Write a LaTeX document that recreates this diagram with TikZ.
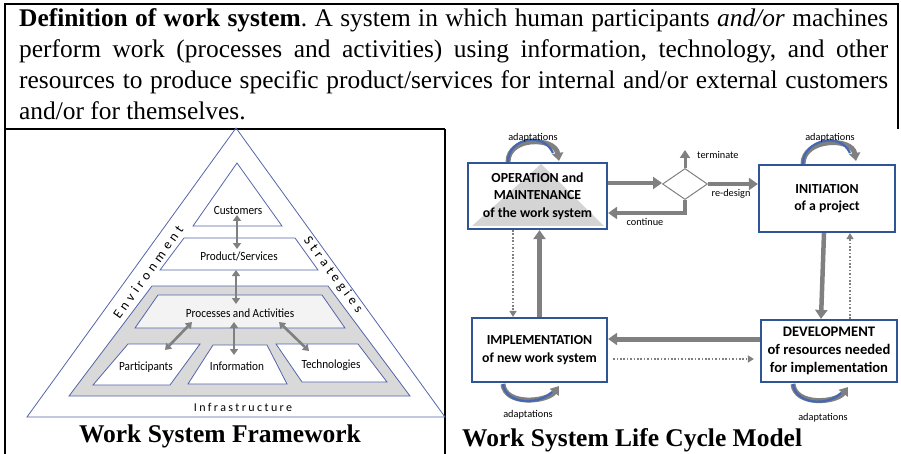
\documentclass[tikz,border=0pt]{standalone}
\usepackage{fontspec}
\setmainfont{Liberation Serif}
\newfontfamily\calib{Carlito}
\newfontfamily\calibn[FakeStretch=0.9]{Carlito}
\newfontfamily\calibsp[LetterSpace=20]{Carlito}
\newfontfamily\calibwide[LetterSpace=30]{Carlito}
\usetikzlibrary{arrows.meta,shapes.geometric,calc}

\definecolor{pyrline}{RGB}{84,100,170}
\definecolor{bandgray}{RGB}{217,217,217}
\definecolor{pafill}{RGB}{243,243,243}
\definecolor{arrgray}{RGB}{128,128,128}
\definecolor{boxblue}{RGB}{47,85,151}
\definecolor{loopblue}{RGB}{68,104,180}
\definecolor{opshade}{RGB}{212,212,212}

\tikzset{
  frame/.style={black, line width=2pt},
  pyr/.style={draw=pyrline, line width=0.8pt},
  lbl/.style={inner sep=0, font=\calibn\fontsize{12.5}{14}\selectfont},
  edgetxt/.style={inner sep=0, font=\calibwide\fontsize{13.5}{15}\selectfont},
  dbl/.style={arrgray, line width=2.6pt,
    {Triangle[length=6pt,width=8pt]}-{Triangle[length=6pt,width=8pt]}},
  stage/.style={draw=boxblue, line width=2.2pt, align=center, inner sep=0,
    font=\calib\bfseries\fontsize{13.8}{17.5}\selectfont},
  flow/.style={arrgray, line width=4pt, -{Triangle[length=9pt,width=12pt]}},
  thinflow/.style={arrgray, line width=3pt, -{Triangle[length=8pt,width=10pt]}},
  dots/.style={arrgray, line width=1.6pt, dash pattern=on 1.6pt off 1.8pt,
    -{Triangle[length=6pt,width=7pt]}},
  small/.style={inner sep=0, font=\calib\fontsize{10.3}{12}\selectfont},
  loopgray/.style={arrgray, line width=5pt, -{Triangle[length=8pt,width=11pt]}},
  loopcore/.style={loopblue, line width=2.2pt},
  title/.style={inner sep=0, font=\bfseries\fontsize{25.5}{28}\selectfont}
}

\begin{document}
\begin{tikzpicture}[x=1pt, y=-1pt]
\useasboundingbox (0,0) rectangle (901,454);

% ---------- frames ----------
\draw[frame] (5,454) -- (5,4) -- (898,4) -- (898,129);
\draw[frame] (5,129) -- (445,129);
\draw[frame] (445,129) -- (445,454);

% ---------- definition ----------
\node[anchor=north west, inner sep=0] (def) at (19,8) {\parbox{869pt}{\frenchspacing\fontsize{25.4}{31}\selectfont
\textbf{Definition of work system}. A system in which human participants \textit{and/or} machines\linebreak
perform work (processes and activities) using information, technology, and other\linebreak
resources to produce specific product/services for internal and/or external customers\linebreak
and/or for themselves.}};

% ---------- work system framework ----------
\draw[pyr] (236,128) -- (445,417) -- (27,417) -- cycle;
\draw[pyr] (237,163) -- (282,226) -- (193,226) -- cycle;
\draw[pyr] (184,238) -- (295,238) -- (318,270) -- (160,270) -- cycle;
\draw[pyr, fill=bandgray] (152,286) -- (328,286) -- (410,396) -- (69,396) -- cycle;
\draw[pyr, fill=pafill] (158,295) -- (322,295) -- (345,328) -- (135,328) -- cycle;
\draw[pyr, fill=white] (128,344) -- (200,344) -- (170,385) -- (93,385) -- cycle;
\draw[pyr, fill=white] (213,345) -- (267,345) -- (287,384) -- (188,384) -- cycle;
\draw[pyr, fill=white] (276,344) -- (358,344) -- (387,382) -- (302,382) -- cycle;

\node[lbl] (cust) at (238,210) {Customers};
\node[lbl] (prod) at (239,256) {Product/Services};
\node[lbl] (proc) at (240,313) {Processes and Activities};
\node[lbl] (part) at (146,367) {Participants};
\node[lbl] (info) at (237,366) {Information};
\node[lbl] (tech) at (331,365) {Technologies};
\node[inner sep=0, font=\calibsp\fontsize{12}{13}\selectfont] (infra) at (243,407) {Infrastructure};
\node[edgetxt, rotate=54.5] (env) at (148,272) {Environment};
\node[edgetxt, rotate=-53.5] (strat) at (333,275) {Strategies};

\coordinate (c1) at (237,215); \coordinate (c2) at (237,249);
\coordinate (p1) at (236,270); \coordinate (p2) at (236,304);
\coordinate (a1) at (192,322); \coordinate (a2) at (165,350);
\coordinate (i1) at (234,322); \coordinate (i2) at (234,355);
\coordinate (t1) at (279,322); \coordinate (t2) at (309,351);
\draw[dbl] (c1) -- (c2);
\draw[dbl] (p1) -- (p2);
\draw[dbl] (a1) -- (a2);
\draw[dbl] (i1) -- (i2);
\draw[dbl] (t1) -- (t2);

\node[title, anchor=base] (wsf) at (220,442) {Work System Framework};

% ---------- work system life cycle ----------
\fill[opshade] (541,164) -- (604,226) -- (472,226) -- cycle;
\node[stage, minimum width=139pt, minimum height=66pt] (op) at (537.5,196)
  {OPERATION and\\MAINTENANCE\\of the work system};
\node[stage, minimum width=136pt, minimum height=67pt] (init) at (827,198.5)
  {INITIATION\\of a project};
\node[stage, minimum width=135pt, minimum height=64pt] (impl) at (539.5,350)
  {IMPLEMENTATION\\of new work system};
\node[stage, minimum width=136pt, minimum height=62pt, font=\calib\bfseries\fontsize{14.6}{18}\selectfont] (dev) at (829,351)
  {DEVELOPMENT\\of resources needed\\for implementation};

\node[diamond, draw=arrgray, line width=1pt, aspect=1.45, minimum width=45pt,
  minimum height=31pt, inner sep=0] (dm) at (685,184) {};

\coordinate (term) at (685,150);
\draw[thinflow] (dm.north) -- (term);
\draw[flow] ([yshift=13]op.east) -- ([yshift=13]op.east -| dm.west);
\draw[flow] (dm.east) -- (dm.east -| init.west);
\draw[flow] (dm.south) |- ([yshift=-17]op.east);

\node[small, anchor=west] (termlbl) at (697,155) {terminate};
\node[small] (redes) at (731,194) {re-design};
\node[small] (cont) at (645,222) {continue};

\draw[flow, line width=4.5pt] ([xshift=-3]init.south) -- ([xshift=-8]dev.north);
\draw[dots] ([xshift=21]dev.north) -- ([xshift=23]init.south);
\draw[flow, line width=5pt] ([yshift=12]dev.west) -- ([yshift=12]dev.west -| impl.east);
\draw[dots] ([yshift=-9,xshift=5]impl.east) -- ([yshift=-9,xshift=-6]impl.east -| dev.west);
\draw[flow, line width=5pt] (impl.north) -- (impl.north |- op.south);
\draw[dots] ([xshift=-24.5]op.south) -- ([xshift=-24.5]op.south |- impl.north);

% adaptation loops
\coordinate (la1) at (508,162); \coordinate (la2) at (559,161);
\coordinate (lb1) at (803,164); \coordinate (lb2) at (856,161);
\coordinate (lc1) at (503,384); \coordinate (lc2) at (559,386);
\coordinate (ld1) at (793,384); \coordinate (ld2) at (848,387);
\draw[loopgray] (la1) .. controls +(0,-26) and +(-4,-24) .. (la2);
\draw[loopcore] (la1) .. controls +(0,-24) and +(-10,-22) .. ($(la2)+(-6,-8)$);
\draw[loopgray] (lb1) .. controls +(0,-26) and +(-4,-24) .. (lb2);
\draw[loopcore] (lb1) .. controls +(0,-24) and +(-10,-22) .. ($(lb2)+(-6,-8)$);
\draw[loopgray] (lc1) .. controls +(2,22) and +(-12,16) .. (lc2);
\draw[loopcore] (lc1) .. controls +(2,20) and +(-14,14) .. ($(lc2)+(-7,6)$);
\draw[loopgray] (ld1) .. controls +(2,22) and +(-12,16) .. (ld2);
\draw[loopcore] (ld1) .. controls +(2,20) and +(-14,14) .. ($(ld2)+(-7,6)$);

\node[small] (ada) at (533,138) {adaptations};
\node[small] (adb) at (830,138) {adaptations};
\node[small] (adc) at (528,415) {adaptations};
\node[small] (add) at (823,418) {adaptations};

\node[title, anchor=base west] (wslc) at (462,446) {Work System Life Cycle Model};
\end{tikzpicture}
\end{document}
